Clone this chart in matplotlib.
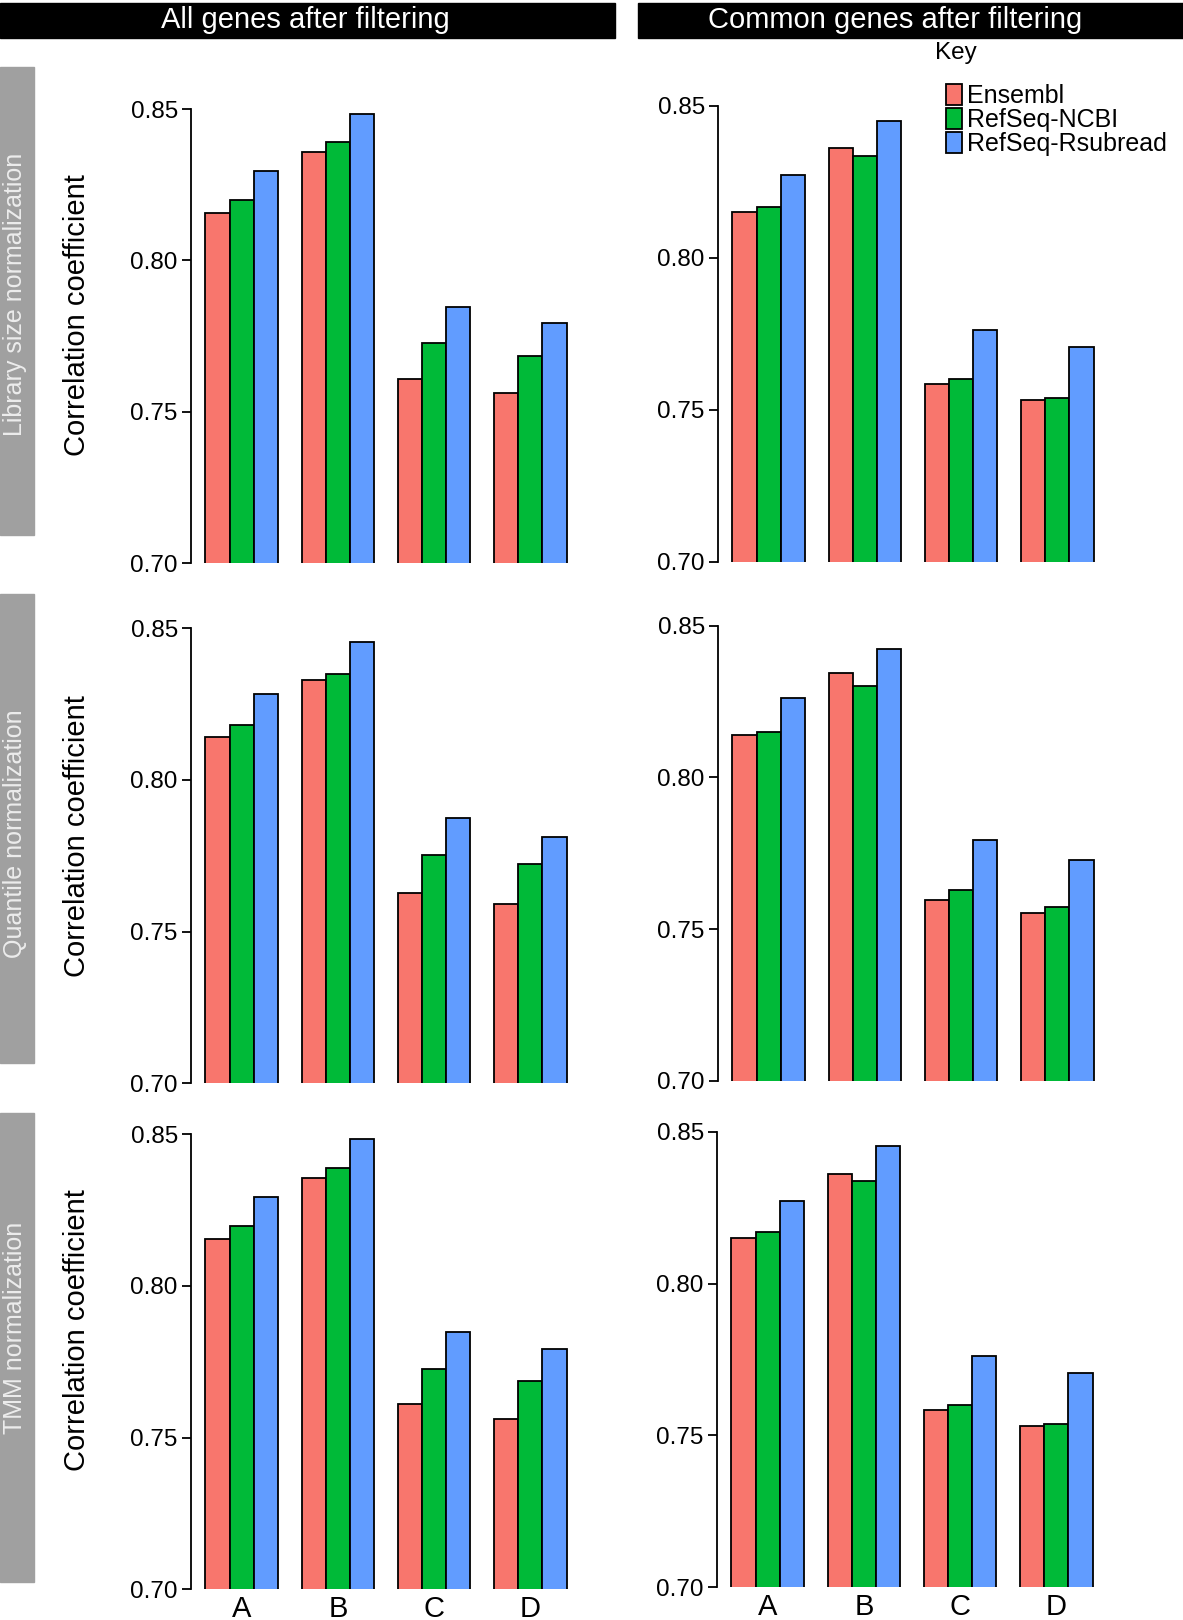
import matplotlib
matplotlib.use('Agg')
import matplotlib.pyplot as plt
import numpy as np

plt.rcParams['font.family'] = ['Liberation Sans', 'DejaVu Sans']

groups = ['A', 'B', 'C', 'D']
annotations = ['Ensembl', 'RefSeq-NCBI', 'RefSeq-Rsubread']
colors = ['#F8766D', '#00BA38', '#619CFF']

# values: one list per annotation, over groups A-D
lib_all = [[0.8155, 0.8357, 0.7609, 0.7563],
           [0.8199, 0.8390, 0.7726, 0.7685],
           [0.8295, 0.8484, 0.7847, 0.7793]]
lib_common = [[0.8149, 0.8361, 0.7583, 0.7532],
              [0.8168, 0.8336, 0.7602, 0.7538],
              [0.8271, 0.8451, 0.7763, 0.7706]]
quant_all = [[0.8142, 0.8331, 0.7629, 0.7591],
             [0.8180, 0.8350, 0.7753, 0.7723],
             [0.8283, 0.8455, 0.7876, 0.7813]]
quant_common = [[0.8139, 0.8343, 0.7597, 0.7553],
                [0.8150, 0.8300, 0.7628, 0.7571],
                [0.8261, 0.8423, 0.7793, 0.7729]]
tmm_all = [[0.8155, 0.8355, 0.7611, 0.7563],
           [0.8198, 0.8389, 0.7726, 0.7686],
           [0.8293, 0.8484, 0.7848, 0.7793]]
tmm_common = [[0.8151, 0.8362, 0.7583, 0.7532],
              [0.8169, 0.8338, 0.7601, 0.7538],
              [0.8272, 0.8453, 0.7763, 0.7707]]

col_titles = ['All genes after filtering', 'Common genes after filtering']
row_titles = ['Library size normalization', 'Quantile normalization', 'TMM normalization']
yticks = [0.70, 0.75, 0.80, 0.85]

W, H = 1183, 1620
fig = plt.figure(figsize=(W / 100, H / 100), dpi=100)

def px_axes(x0, x1, ytop, ybot):
    return fig.add_axes([x0 / W, 1 - ybot / H, (x1 - x0) / W, (ybot - ytop) / H])

def fx(x):
    return x / W

def fy(y):
    return 1 - y / H

# header bars
fig.patches.append(plt.Rectangle((0, fy(38)), fx(615), (38 - 3) / H, color='black',
                                 transform=fig.transFigure, zorder=0))
fig.patches.append(plt.Rectangle((fx(638), fy(38)), fx(1183 - 638), (38 - 3) / H, color='black',
                                 transform=fig.transFigure, zorder=0))
fig.text(fx(305), fy(20), col_titles[0], color='white', fontsize=21, ha='center', va='center')
fig.text(fx(895), fy(20), col_titles[1], color='white', fontsize=21, ha='center', va='center')

# side bars
side = [(67, 535, 294), (594, 1063, 834), (1113, 1582, 1328)]
for (t, b, c), lab in zip(side, row_titles):
    fig.patches.append(plt.Rectangle((0, fy(b)), fx(34), (b - t) / H, color='#a0a0a0',
                                     transform=fig.transFigure, zorder=0))
    fig.text(fx(15), fy(c), lab, color='#ececec', fontsize=18, rotation=90,
             ha='center', va='center')

data = [[lib_all, lib_common], [quant_all, quant_common], [tmm_all, tmm_common]]
boxes = [[(191, 581, 109, 563), (718, 1108, 105.7, 561.7)],
         [(191, 581, 628.3, 1083.3), (718, 1108, 625.7, 1080.7)],
         [(191, 581, 1134.3, 1589.3), (717, 1107, 1131.7, 1587.3)]]
ylab_y = [315, 836, 1330]

x = np.arange(len(groups)) * 4 + 1
handles = []
for r in range(3):
    for c in range(2):
        ax = px_axes(*boxes[r][c])
        vals = data[r][c]
        for k in range(3):
            bars = ax.bar(x + k, vals[k], width=1, align='edge', color=colors[k],
                          edgecolor='black', linewidth=1.3, label=annotations[k])
            if r == 0 and c == 1:
                handles.append(bars)
        ax.set_xlim(0.4, 16.6)
        ax.set_ylim(0.70, 0.85)
        ax.set_yticks(yticks)
        ax.set_yticklabels(['%.2f' % v for v in yticks])
        for s in ['top', 'right', 'bottom']:
            ax.spines[s].set_visible(False)
        ax.spines['left'].set_linewidth(1.3)
        ax.tick_params(axis='y', direction='out', length=6.5, width=1.3, pad=3, labelsize=17.5)
        if r == 2:
            ax.set_xticks(x + 1.5)
            ax.set_xticklabels(groups, fontsize=21)
            ax.tick_params(axis='x', length=0, pad=4)
        else:
            ax.set_xticks([])
        if c == 0:
            fig.text(fx(77), fy(ylab_y[r]), 'Correlation coefficient', fontsize=21,
                     rotation=90, ha='center', va='center')

# key
fig.text(fx(956), fy(53), 'Key', fontsize=17.5, ha='center', va='center')
fig.legend(handles=handles, labels=annotations, loc='upper left',
           bbox_to_anchor=(fx(946), fy(84)), frameon=False, fontsize=18,
           handlelength=0.65, handleheight=0.9, handletextpad=0.2,
           labelspacing=0.0, borderpad=0, borderaxespad=0)

fig.savefig('out.png', dpi=100)
